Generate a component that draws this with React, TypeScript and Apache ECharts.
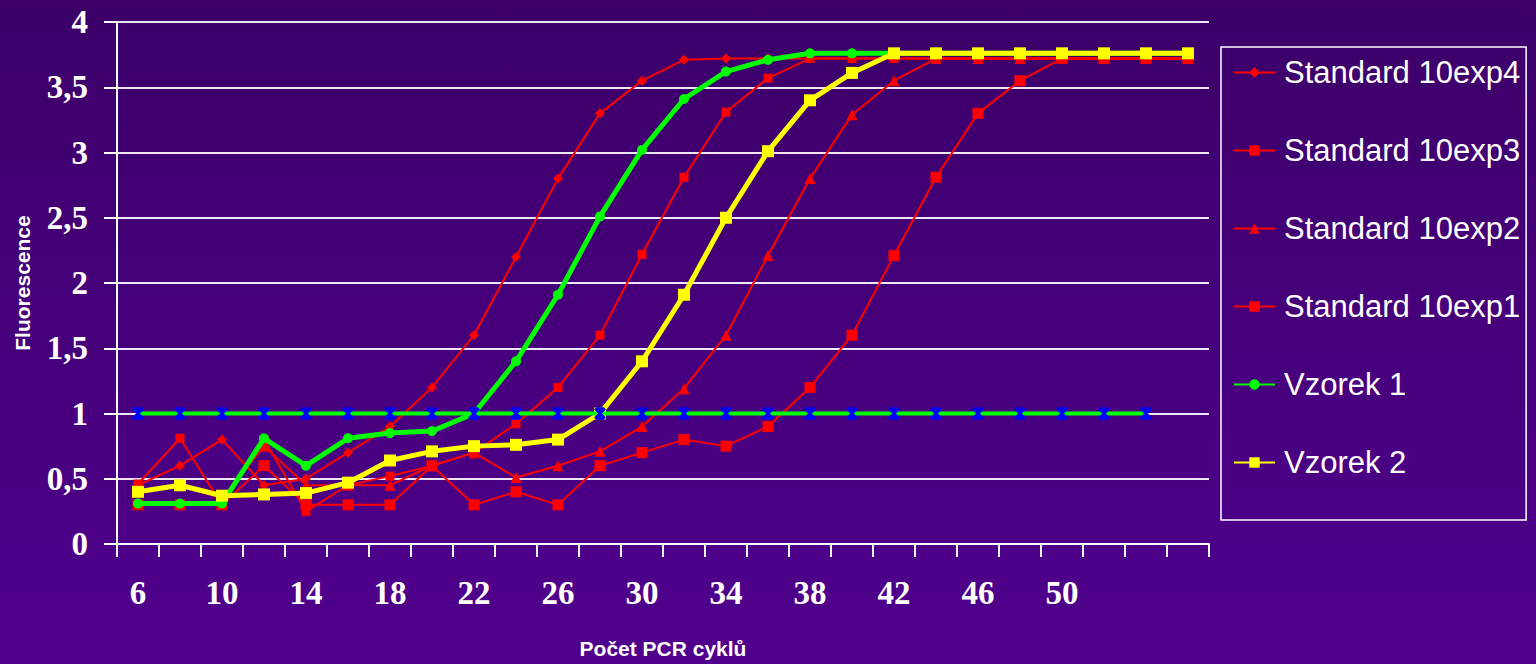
import React, { useEffect, useRef } from 'react';
import * as echarts from 'echarts';

const categories = ['6', '8', '10', '12', '14', '16', '18', '20', '22', '24', '26', '28', '30', '32', '34', '36', '38', '40', '42', '44', '46', '48', '50', '52', '54', '56'];
const xTickLabels = ['6', '10', '14', '18', '22', '26', '30', '34', '38', '42', '46', '50'];

const standard10exp4 = [0.45, 0.6, 0.8, 0.45, 0.5, 0.7, 0.9, 1.2, 1.6, 2.2, 2.8, 3.3, 3.55, 3.71, 3.72, 3.72, 3.72, 3.72, 3.72, 3.72, 3.72, 3.72, 3.72, 3.72, 3.72, 3.72];
const standard10exp3 = [0.46, 0.81, 0.3, 0.8, 0.25, 0.45, 0.52, 0.6, 0.7, 0.92, 1.2, 1.6, 2.22, 2.81, 3.31, 3.57, 3.72, 3.72, 3.72, 3.72, 3.72, 3.72, 3.72, 3.72, 3.72, 3.72];
const standard10exp2 = [0.4, 0.45, 0.35, 0.75, 0.45, 0.45, 0.45, 0.6, 0.7, 0.51, 0.6, 0.71, 0.9, 1.19, 1.6, 2.21, 2.8, 3.29, 3.55, 3.72, 3.72, 3.72, 3.72, 3.72, 3.72, 3.72];
const standard10exp1 = [0.3, 0.3, 0.3, 0.6, 0.3, 0.3, 0.3, 0.6, 0.3, 0.4, 0.3, 0.6, 0.7, 0.8, 0.75, 0.9, 1.2, 1.6, 2.21, 2.81, 3.3, 3.55, 3.72, 3.72, 3.72, 3.72];
const vzorek1 = [0.31, 0.31, 0.31, 0.81, 0.6, 0.81, 0.85, 0.865, 1.0, 1.4, 1.91, 2.51, 3.02, 3.41, 3.62, 3.71, 3.76, 3.76, 3.76, 3.76, 3.76, 3.76, 3.76, 3.76, 3.76, 3.76];
const vzorek2 = [0.4, 0.45, 0.37, 0.38, 0.39, 0.47, 0.64, 0.71, 0.75, 0.76, 0.8, 1.0, 1.4, 1.91, 2.5, 3.01, 3.4, 3.61, 3.76, 3.76, 3.76, 3.76, 3.76, 3.76, 3.76, 3.76];
const threshold = [1, 1, 1, 1, 1, 1, 1, 1, 1, 1, 1, 1, 1, 1, 1, 1, 1, 1, 1, 1, 1, 1, 1, 1, 1, null];

const RED = '#ff0000';
const GREEN = '#00ff00';
const YELLOW = '#ffff00';
const BLUE = '#0000ff';

export default function App() {
  const ref = useRef<HTMLDivElement>(null);

  useEffect(() => {
    if (!ref.current) return;
    const chart = echarts.init(ref.current, undefined, { renderer: 'svg' });

    const redSeries = (name: string, data: number[], symbol: string, size: number) => ({
      name,
      type: 'line',
      data,
      symbol,
      symbolSize: size,
      showAllSymbol: true,
      lineStyle: { color: RED, width: 2 },
      itemStyle: { color: RED },
      z: 2,
    });

    const option = {
      animation: false,
      backgroundColor: new echarts.graphic.LinearGradient(0, 0, 0, 1, [
        { offset: 0, color: '#3c0068' },
        { offset: 1, color: '#50008e' },
      ]),
      grid: { left: 117, right: 327, top: 22, bottom: 115, containLabel: false },
      legend: {
        orient: 'vertical',
        left: 1221,
        top: 47,
        data: ['Standard 10exp4', 'Standard 10exp3', 'Standard 10exp2', 'Standard 10exp1', 'Vzorek 1', 'Vzorek 2'],
        selectedMode: false,
        borderColor: '#ffffff',
        borderWidth: 1.5,
        padding: [10, 6, 42, 12],
        itemGap: 47,
        itemWidth: 41,
        itemHeight: 13,
        textStyle: {
          color: '#ffffff',
          fontFamily: 'Liberation Sans, Arial, sans-serif',
          fontSize: 31,
          lineHeight: 31,
          padding: [0, 0, 0, 4],
        },
      },
      xAxis: {
        type: 'category',
        data: categories,
        boundaryGap: true,
        name: 'Počet PCR cyklů',
        nameLocation: 'middle',
        nameGap: 94,
        nameTextStyle: {
          color: '#ffffff',
          fontFamily: 'Liberation Sans, Arial, sans-serif',
          fontWeight: 'bold',
          fontSize: 21,
        },
        axisLine: { lineStyle: { color: '#ffffff', width: 2 } },
        axisTick: { show: true, interval: 0, length: 13, lineStyle: { color: '#ffffff', width: 2 } },
        axisLabel: {
          interval: 0,
          margin: 32,
          color: '#ffffff',
          fontFamily: 'Liberation Serif, Times New Roman, serif',
          fontWeight: 'bold',
          fontSize: 33,
          formatter: (v: string) => (xTickLabels.indexOf(v) >= 0 ? v : ''),
        },
        splitLine: { show: false },
      },
      yAxis: {
        type: 'value',
        min: 0,
        max: 4,
        interval: 0.5,
        name: 'Fluorescence',
        nameLocation: 'middle',
        nameRotate: 90,
        nameGap: 84,
        nameTextStyle: {
          color: '#ffffff',
          fontFamily: 'Liberation Sans, Arial, sans-serif',
          fontWeight: 'bold',
          fontSize: 21,
        },
        axisLine: { show: true, lineStyle: { color: '#ffffff', width: 2 } },
        axisTick: { show: true, length: 13, lineStyle: { color: '#ffffff', width: 2 } },
        axisLabel: {
          margin: 29,
          color: '#ffffff',
          fontFamily: 'Liberation Serif, Times New Roman, serif',
          fontWeight: 'bold',
          fontSize: 33,
          formatter: (v: number) => String(v).replace('.', ','),
        },
        splitLine: { show: true, lineStyle: { color: '#f0e6fa', width: 2 } },
      },
      series: [
        redSeries('Standard 10exp4', standard10exp4, 'diamond', 10),
        redSeries('Standard 10exp3', standard10exp3, 'rect', 9),
        redSeries('Standard 10exp2', standard10exp2, 'triangle', 11),
        redSeries('Standard 10exp1', standard10exp1, 'rect', 11),
        {
          name: 'Vzorek 1',
          type: 'line',
          data: vzorek1,
          symbol: 'circle',
          symbolSize: 10,
          showAllSymbol: true,
          lineStyle: { color: GREEN, width: 5 },
          itemStyle: { color: GREEN },
          z: 3,
        },
        {
          name: 'Vzorek 2',
          type: 'line',
          data: vzorek2,
          symbol: 'rect',
          symbolSize: 12,
          showAllSymbol: true,
          lineStyle: { color: YELLOW, width: 5 },
          itemStyle: { color: YELLOW },
          z: 4,
        },
        {
          name: 'Threshold',
          type: 'line',
          data: threshold,
          symbol: 'path://M0 0L10 10M10 0L0 10M5 0L5 10M1 0L9 0M1 10L9 10',
          symbolSize: 10,
          showAllSymbol: true,
          lineStyle: { color: GREEN, width: 4 },
          itemStyle: { color: BLUE, borderColor: BLUE, borderWidth: 2.5 },
          z: 5,
        },
      ],
    };

    chart.setOption(option as any);
    return () => chart.dispose();
  }, []);

  return (
    <div
      ref={ref}
      style={{ position: 'absolute', left: 0, top: 0, width: 1536, height: 664 }}
    />
  );
}
